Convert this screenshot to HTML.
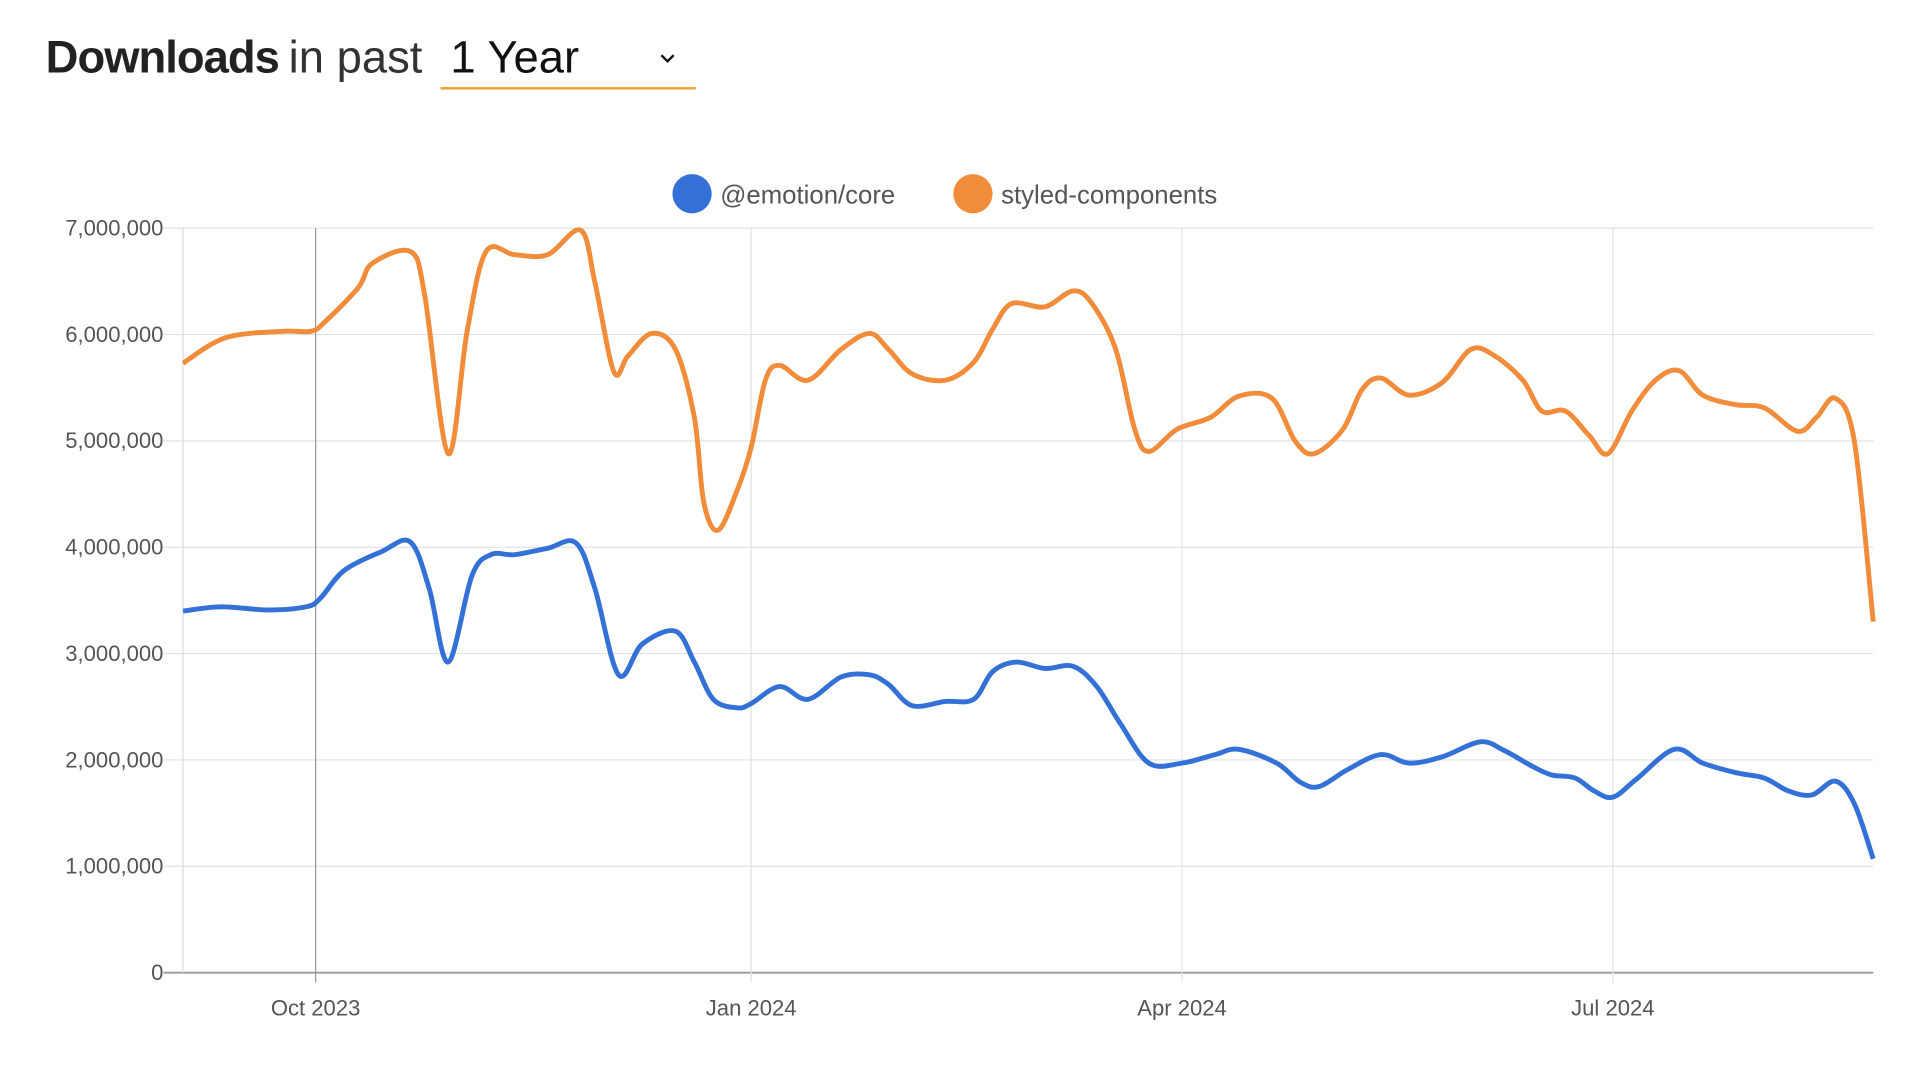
<!DOCTYPE html>
<html><head><meta charset="utf-8"><style>
html,body{margin:0;padding:0;background:#fff;width:1914px;height:1072px;overflow:hidden}
svg{display:block;font-family:"Liberation Sans",sans-serif}
</style></head><body>
<svg id="c" width="1914" height="1072" viewBox="0 0 1560 874">
<g>
<text x="37" y="59" font-size="37" fill="#222"><tspan font-weight="bold" letter-spacing="-0.8">Downloads</tspan><tspan fill="#333" dx="8">in past</tspan></text>
<g>
<text x="367" y="59" font-size="37" fill="#111">1 Year</text>
<path d="M539 45 L544 50 L549 45" fill="none" stroke="#111" stroke-width="2"/>
<rect x="359" y="71" width="208" height="2" fill="#f0a030"/>
</g></g>
<g>
<g><circle cx="564" cy="158" r="16" fill="#3371d6"/><text x="587" y="166" font-size="21" fill="#555">@emotion/core</text></g>
<g><circle cx="793" cy="158" r="16" fill="#f08c3a"/><text x="816" y="166" font-size="21" fill="#555">styled-components</text></g>
</g>
<g id="grid"></g><g id="axes"></g><g id="lines"></g>
</svg>
<script>
const yTicks=[0,1,2,3,4,5,6,7];
const yTickLabels=["0","1,000,000","2,000,000","3,000,000","4,000,000","5,000,000","6,000,000","7,000,000"];
const xTickDays=[28,120,211,302];
const xTickLabels=["Oct 2023","Jan 2024","Apr 2024","Jul 2024"];
const styledDays=[0,9,21,27,30,37,40,48,51,56,60,64,70,77,84,87,91,94,99,104,108,110,113,117,120,123,126,132,139,145,149,154,161,167,171,175,182,188,192,197,201,204,210,217,223,230,235,239,245,249,253,259,266,272,277,283,287,292,297,301,306,311,316,321,328,334,341,345,349,353,357];
const styledVals=[5.73,5.97,6.03,6.03,6.12,6.44,6.67,6.78,6.38,4.88,6.03,6.78,6.75,6.75,6.98,6.49,5.65,5.8,6.01,5.86,5.22,4.42,4.16,4.53,4.94,5.57,5.71,5.57,5.86,6.01,5.86,5.63,5.57,5.74,6.05,6.29,6.26,6.41,6.29,5.86,5.11,4.9,5.11,5.22,5.42,5.4,4.99,4.88,5.11,5.48,5.59,5.43,5.55,5.86,5.8,5.57,5.28,5.28,5.05,4.88,5.28,5.57,5.66,5.43,5.34,5.31,5.09,5.22,5.4,5.0,3.3];
const emotionDays=[0,8,18,26,29,34,42,48,52,56,61,65,70,77,83,87,92,97,104,108,112,117,120,126,132,139,145,149,154,161,167,171,176,182,188,193,198,204,211,218,223,231,236,240,246,253,259,266,274,279,285,289,294,298,302,307,315,321,328,334,339,344,349,353,357];
const emotionVals=[3.4,3.44,3.41,3.44,3.52,3.78,3.96,4.05,3.61,2.92,3.73,3.93,3.93,3.99,4.04,3.61,2.8,3.09,3.21,2.92,2.57,2.49,2.53,2.69,2.57,2.78,2.8,2.71,2.51,2.55,2.57,2.83,2.92,2.86,2.88,2.69,2.34,1.97,1.97,2.05,2.1,1.97,1.79,1.75,1.91,2.05,1.97,2.03,2.17,2.09,1.94,1.86,1.83,1.71,1.65,1.82,2.1,1.97,1.88,1.83,1.71,1.67,1.8,1.59,1.07];
const X0=149,X1=1527,Y0=793,Y1=186,D1=357,VMAX=7;
const xs=d=>X0+d/D1*(X1-X0);
const ys=v=>Y0-v/VMAX*(Y0-Y1);
const NS="http://www.w3.org/2000/svg";
function mk(t,a,p){const e=document.createElementNS(NS,t);for(const k in a)e.setAttribute(k,a[k]);p.appendChild(e);return e;}
const grid=document.getElementById('grid'),axes=document.getElementById('axes'),lines=document.getElementById('lines');
yTicks.forEach((v,i)=>{
 const l=mk('line',{x1:X0-16,x2:X1,y1:ys(v),y2:ys(v),stroke:v===0?'#999':'#e2e2e2','stroke-width':v===0?1.5:1},grid);
 
 
 const t=mk('text',{x:X0-16,y:ys(v)+6,'text-anchor':'end','font-size':18,fill:'#555'},axes);
 t.textContent=yTickLabels[i];
 
 
});
const ly=mk('line',{x1:X0,x2:X0,y1:Y1,y2:Y0,stroke:'#ddd','stroke-width':1},grid);


xTickDays.forEach((d,i)=>{
 const l=mk('line',{x1:xs(d),x2:xs(d),y1:Y1,y2:Y0+8,stroke:i===0?'#999':'#e2e2e2','stroke-width':1},grid);
 
 
 const t=mk('text',{x:xs(d),y:Y0+35,'text-anchor':'middle','font-size':18,fill:'#555'},axes);
 t.textContent=xTickLabels[i];
 
 
});
function smooth(days,vals){
 const p=days.map((d,i)=>[xs(d),ys(vals[i])]);
 let s='M'+p[0][0]+' '+p[0][1];
 for(let i=0;i<p.length-1;i++){
  const a=p[i-1]||p[i],b=p[i],c=p[i+1],d=p[i+2]||c;
  const c1=[b[0]+(c[0]-a[0])/6,b[1]+(c[1]-a[1])/6],c2=[c[0]-(d[0]-b[0])/6,c[1]-(d[1]-b[1])/6];
  s+=` C${c1[0]} ${c1[1]} ${c2[0]} ${c2[1]} ${c[0]} ${c[1]}`;
 }
 return s;
}
const ps=mk('path',{d:smooth(styledDays,styledVals),fill:'none',stroke:'#f08c3a','stroke-width':4,'stroke-linejoin':'round'},lines);


const pe=mk('path',{d:smooth(emotionDays,emotionVals),fill:'none',stroke:'#3371d6','stroke-width':4,'stroke-linejoin':'round'},lines);


</script>
</body></html>
